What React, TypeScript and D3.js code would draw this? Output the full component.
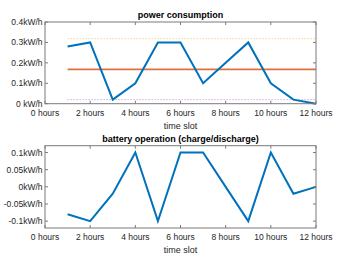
import React from 'react';
import * as d3 from 'd3';

const hours = [1, 2, 3, 4, 5, 6, 7, 8, 9, 10, 11, 12];
const consumption = [0.28, 0.3, 0.02, 0.1, 0.3, 0.3, 0.1, 0.2, 0.3, 0.1, 0.02, 0.0];
const battery = [-0.08, -0.1, -0.02, 0.1, -0.1, 0.1, 0.1, 0.0, -0.1, 0.1, -0.02, 0.0];
const meanLevel = 0.168;
const upperLevel = 0.318;
const lowerLevel = 0.02;

const xTicks = [0, 2, 4, 6, 8, 10, 12];
const xTickLabels = ['0 hours', '2 hours', '4 hours', '6 hours', '8 hours', '10 hours', '12 hours'];
const topTicks = [0, 0.1, 0.2, 0.3, 0.4];
const topTickLabels = ['0 kW/h', '0.1kW/h', '0.2kW/h', '0.3kW/h', '0.4kW/h'];
const bottomTicks = [-0.1, -0.05, 0, 0.05, 0.1];
const bottomTickLabels = ['-0.1kW/h', '-0.05kW/h', '0kW/h', '0.05kW/h', '0.1kW/h'];

const width = 349;
const height = 262;
const left = 45;
const right = 316;
const font = '"Liberation Sans", Arial, sans-serif';
const txt = '#262626';
const axisCol = '#7a7a7a';

type PanelProps = {
  top: number;
  bottom: number;
  yDomain: [number, number];
  yTicks: number[];
  yLabels: string[];
  title: string;
  children: (x: d3.ScaleLinear<number, number>, y: d3.ScaleLinear<number, number>) => React.ReactNode;
};

const Panel = ({ top, bottom, yDomain, yTicks, yLabels, title, children }: PanelProps) => {
  const x = d3.scaleLinear().domain([0, 12]).range([left, right]);
  const y = d3.scaleLinear().domain(yDomain).range([bottom, top]);
  const tl = 3;
  return (
    <g>
      <rect x={left} y={top} width={right - left} height={bottom - top} fill="#fff" />
      {children(x, y)}
      <rect x={left} y={top} width={right - left} height={bottom - top} fill="none" stroke={axisCol} strokeWidth={1} />
      {xTicks.map((t, i) => (
        <g key={'x' + t}>
          <line x1={x(t)} x2={x(t)} y1={bottom} y2={bottom - tl} stroke={axisCol} />
          <line x1={x(t)} x2={x(t)} y1={top} y2={top + tl} stroke={axisCol} />
          <text x={x(t)} y={bottom + 12} textAnchor="middle" fontSize={8.5} fill={txt} fontFamily={font}>
            {xTickLabels[i]}
          </text>
        </g>
      ))}
      {yTicks.map((t, i) => (
        <g key={'y' + t}>
          <line x1={left} x2={left + tl} y1={y(t)} y2={y(t)} stroke={axisCol} />
          <line x1={right} x2={right - tl} y1={y(t)} y2={y(t)} stroke={axisCol} />
          <text x={left - 2.5} y={y(t) + 3} textAnchor="end" fontSize={8.5} fill={txt} fontFamily={font}>
            {yLabels[i]}
          </text>
        </g>
      ))}
      <text x={(left + right) / 2} y={top - 4} textAnchor="middle" fontSize={9} fontWeight="bold" fill="#000" fontFamily={font}>
        {title}
      </text>
      <text x={(left + right) / 2} y={bottom + 25} textAnchor="middle" fontSize={9} fill={txt} fontFamily={font}>
        time slot
      </text>
    </g>
  );
};

export default function App() {
  const line = (x: d3.ScaleLinear<number, number>, y: d3.ScaleLinear<number, number>, vals: number[]) =>
    d3
      .line<number>()
      .x((_, i) => x(hours[i]))
      .y((d) => y(d))(vals) || '';

  return (
    <svg width={width} height={height} style={{ position: 'absolute', left: 0, top: 0, background: '#fff' }}>
      <Panel
        top={22}
        bottom={103.7}
        yDomain={[0, 0.4]}
        yTicks={topTicks}
        yLabels={topTickLabels}
        title="power consumption"
      >
        {(x, y) => (
          <g>
            <line x1={x(1)} x2={x(12)} y1={y(upperLevel)} y2={y(upperLevel)} stroke="#EDB120" strokeWidth={0.8} strokeDasharray="1,2" />
            <line x1={x(1)} x2={x(12)} y1={y(lowerLevel)} y2={y(lowerLevel)} stroke="#B565C4" strokeWidth={0.8} strokeDasharray="1,2" />
            <line x1={x(1)} x2={x(12)} y1={y(meanLevel)} y2={y(meanLevel)} stroke="#E0703F" strokeWidth={1.6} />
            <path d={line(x, y, consumption)} fill="none" stroke="#0072BD" strokeWidth={2} />
          </g>
        )}
      </Panel>
      <Panel
        top={145.7}
        bottom={228}
        yDomain={[-0.12, 0.12]}
        yTicks={bottomTicks}
        yLabels={bottomTickLabels}
        title="battery operation (charge/discharge)"
      >
        {(x, y) => <path d={line(x, y, battery)} fill="none" stroke="#0072BD" strokeWidth={2} />}
      </Panel>
    </svg>
  );
}
